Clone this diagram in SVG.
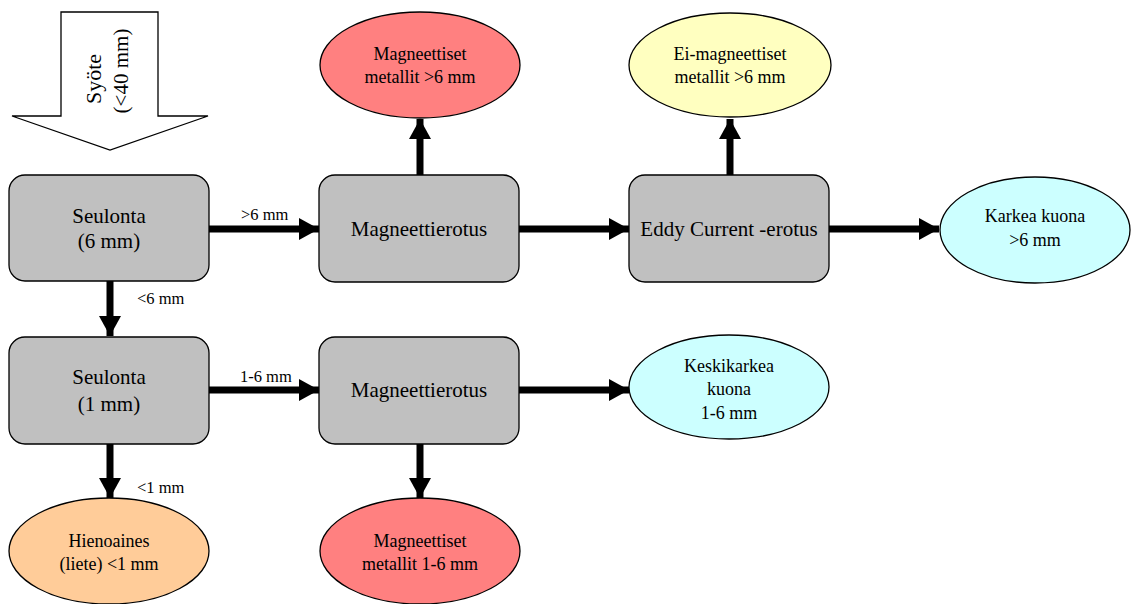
<svg xmlns="http://www.w3.org/2000/svg" width="1131" height="604" viewBox="0 0 1131 604">
<style>
text{font-family:"Liberation Serif","Times New Roman",serif;fill:#000;text-anchor:middle}
.box{fill:#c0c0c0;stroke:#000;stroke-width:1.3}
.ell{stroke:#000;stroke-width:1.3}
.bt{font-size:21px}
.et{font-size:18px}
.lb{font-size:16.5px;text-anchor:start}
.con{stroke:#000;stroke-width:7;fill:none}
.red{fill:#ff8080}.yel{fill:#ffffc0}.cya{fill:#ccffff}.ora{fill:#ffcc99}
</style>
<defs>
<marker id="ah" viewBox="0 0 20 22" refX="20" refY="11" markerWidth="20" markerHeight="22" markerUnits="userSpaceOnUse" orient="auto">
<path d="M0,0 L20,11 L0,22 Z" fill="#000"/>
</marker>
</defs>
<rect width="1131" height="604" fill="#fff"/>
<g id="feed">
<path d="M61,12 H158 V116 H208 L110,150 L12,116 H61 Z" fill="#fff" stroke="#000" stroke-width="1.3"/>
<text transform="translate(101,79) rotate(-90)" font-size="22">Syöte</text>
<text transform="translate(128,71) rotate(-90)" font-size="21">(&lt;40 mm)</text>
</g>
<g id="connectors">
<line class="con" x1="209" y1="229" x2="319" y2="229" marker-end="url(#ah)"/>
<line class="con" x1="519" y1="229" x2="629" y2="229" marker-end="url(#ah)"/>
<line class="con" x1="829" y1="229" x2="939" y2="229" marker-end="url(#ah)"/>
<line class="con" x1="420" y1="175" x2="420" y2="119" marker-end="url(#ah)"/>
<line class="con" x1="730" y1="175" x2="730" y2="119" marker-end="url(#ah)"/>
<line class="con" x1="110" y1="281" x2="110" y2="336" marker-end="url(#ah)"/>
<line class="con" x1="209" y1="390" x2="319" y2="390" marker-end="url(#ah)"/>
<line class="con" x1="519" y1="390" x2="629" y2="390" marker-end="url(#ah)"/>
<line class="con" x1="110" y1="444" x2="110" y2="498" marker-end="url(#ah)"/>
<line class="con" x1="420" y1="444" x2="420" y2="498" marker-end="url(#ah)"/>
<text class="lb" x="241" y="220">&gt;6 mm</text>
<text class="lb" x="137" y="304">&lt;6 mm</text>
<text class="lb" x="240" y="382">1-6 mm</text>
<text class="lb" x="137" y="493">&lt;1 mm</text>
</g>
<g id="seulonta6">
<rect class="box" x="9" y="175" width="200" height="106" rx="16"/>
<text class="bt" x="109" y="223">Seulonta</text>
<text class="bt" x="109" y="248">(6 mm)</text>
</g>
<g id="magneetti1">
<rect class="box" x="319" y="175" width="200" height="107" rx="16"/>
<text class="bt" x="419" y="236">Magneettierotus</text>
</g>
<g id="eddy">
<rect class="box" x="629" y="175" width="200" height="107" rx="16"/>
<text class="bt" x="729" y="236">Eddy Current -erotus</text>
</g>
<g id="seulonta1">
<rect class="box" x="9" y="337" width="200" height="107" rx="16"/>
<text class="bt" x="109" y="384">Seulonta</text>
<text class="bt" x="109" y="411">(1 mm)</text>
</g>
<g id="magneetti2">
<rect class="box" x="319" y="337" width="200" height="107" rx="16"/>
<text class="bt" x="419" y="397">Magneettierotus</text>
</g>
<g id="magmet6">
<ellipse class="ell red" cx="420" cy="65" rx="100" ry="53"/>
<text class="et" x="420" y="60">Magneettiset</text>
<text class="et" x="420" y="83">metallit &gt;6 mm</text>
</g>
<g id="eimag">
<ellipse class="ell yel" cx="730" cy="65" rx="101" ry="52"/>
<text class="et" x="730" y="60">Ei-magneettiset</text>
<text class="et" x="730" y="83">metallit &gt;6 mm</text>
</g>
<g id="karkea">
<ellipse class="ell cya" cx="1035" cy="230" rx="95" ry="53"/>
<text class="et" x="1035" y="222">Karkea kuona</text>
<text class="et" x="1035" y="246">&gt;6 mm</text>
</g>
<g id="keskikarkea">
<ellipse class="ell cya" cx="729" cy="387" rx="100" ry="52"/>
<text class="et" x="729" y="372">Keskikarkea</text>
<text class="et" x="729" y="395">kuona</text>
<text class="et" x="729" y="419">1-6 mm</text>
</g>
<g id="hienoaines">
<ellipse class="ell ora" cx="109" cy="551" rx="100" ry="53"/>
<text class="et" x="109" y="547">Hienoaines</text>
<text class="et" x="109" y="570">(liete) &lt;1 mm</text>
</g>
<g id="magmet16">
<ellipse class="ell red" cx="420" cy="551" rx="100" ry="53"/>
<text class="et" x="420" y="547">Magneettiset</text>
<text class="et" x="420" y="570">metallit 1-6 mm</text>
</g>
</svg>
